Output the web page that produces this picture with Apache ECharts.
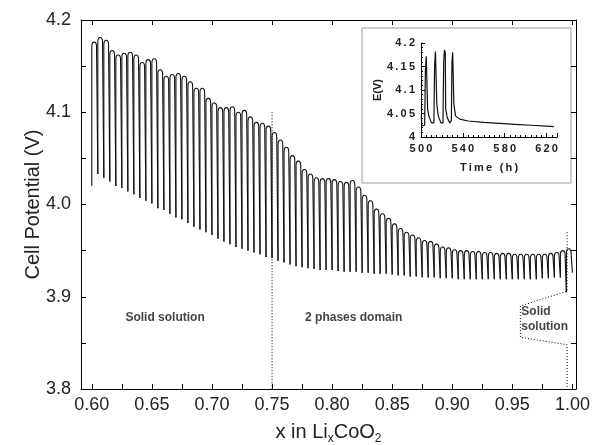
<!DOCTYPE html>
<html><head><meta charset="utf-8">
<script src="https://cdn.jsdelivr.net/npm/echarts@6/dist/echarts.min.js"></script>
<style>html,body{margin:0;padding:0;background:#fff}#c{width:595px;height:445px}</style>
</head><body><div id="c"></div>
<script>
// ---- data ----
const pulseX = [0.600,0.605,0.610,0.615,0.620,0.625,0.630,0.635,0.640,0.645,
  0.650,0.655,0.660,0.665,0.670,0.675,0.680,0.685,0.690,0.695,
  0.700,0.705,0.710,0.715,0.720,0.725,0.730,0.735,0.740,0.745,
  0.750,0.755,0.760,0.765,0.770,0.775,0.780,0.785,0.790,0.795,
  0.800,0.805,0.810,0.815,0.820,0.825,0.830,0.835,0.840,0.845,
  0.850,0.855,0.860,0.865,0.870,0.875,0.880,0.885,0.890,0.895,
  0.900,0.905,0.910,0.915,0.920,0.925,0.930,0.935,0.940,0.945,
  0.950,0.955,0.960,0.965,0.970,0.975,0.980,0.985,0.990,0.995,
  1.000];
const lowV = [4.020,4.033,4.029,4.025,4.020,4.018,4.014,4.011,4.007,4.004,
  4.001,3.996,3.994,3.990,3.986,3.984,3.980,3.976,3.973,3.970,
  3.967,3.963,3.960,3.957,3.954,3.952,3.950,3.948,3.946,3.943,
  3.942,3.939,3.937,3.935,3.933,3.932,3.931,3.930,3.929,3.929,
  3.929,3.928,3.927,3.927,3.927,3.926,3.926,3.925,3.925,3.925,
  3.924,3.923,3.923,3.922,3.922,3.921,3.921,3.921,3.920,3.920,
  3.920,3.919,3.919,3.919,3.919,3.919,3.919,3.919,3.919,3.919,
  3.919,3.919,3.919,3.919,3.919,3.920,3.920,3.921,3.921,3.905,
  3.926];
const highV = [4.176,4.181,4.178,4.167,4.162,4.164,4.165,4.162,4.154,4.157,
  4.158,4.146,4.139,4.141,4.142,4.139,4.133,4.126,4.126,4.115,
  4.110,4.105,4.105,4.106,4.100,4.102,4.095,4.089,4.088,4.085,
  4.078,4.070,4.062,4.053,4.047,4.038,4.033,4.029,4.028,4.028,
  4.027,4.025,4.024,4.026,4.019,4.010,4.004,3.995,3.990,3.985,
  3.979,3.974,3.970,3.967,3.964,3.961,3.960,3.957,3.954,3.953,
  3.951,3.950,3.950,3.949,3.949,3.948,3.948,3.947,3.947,3.947,
  3.946,3.946,3.946,3.946,3.946,3.946,3.947,3.948,3.950,3.952];

const xTickLabels = [0.60,0.65,0.70,0.75,0.80,0.85,0.90,0.95,1.00];
const xTickPositions = [0.600,0.625,0.650,0.675,0.700,0.725,0.750,0.775,0.800,0.825,0.850,0.875,0.900,0.925,0.950,0.975,1.000];
const yTickPositions = [3.80,3.85,3.90,3.95,4.00,4.05,4.10,4.15,4.20];

const boundaryX = [0.750, 0.750];
const boundaryV = [4.100, 3.800];
const rightBoundX = [0.9956, 0.9956, 0.9567, 0.9567, 0.9956, 0.9956];
const rightBoundV = [3.970, 3.906, 3.890, 3.856, 3.848, 3.800];

const regionLabels = ['Solid solution', '2 phases domain', 'Solid\nsolution'];
const regionX = [0.661, 0.818, 0.9575];
const regionV = [3.877, 3.877, 3.876];

const insetT = [500.3,500.8,503.5,504.2,505,505.8,506.3,507.5,510,
  512.3,513,513.8,514.6,515.1,516.5,519,
  521,521.7,522.4,523.2,523.6,525,527.5,
  529,529.6,530.3,531,531.4,533,537,545,560,575,590,605,620,627];
const insetV = [4.045,4.024,4.025,4.14,4.172,4.17,4.06,4.045,4.03,
  4.03,4.15,4.182,4.18,4.07,4.045,4.03,
  4.03,4.16,4.185,4.18,4.06,4.042,4.03,
  4.035,4.16,4.18,4.176,4.07,4.045,4.038,4.034,4.031,4.029,4.027,4.025,4.023,4.022];

// ---- build ----
// one item per pulse: [x start, low at start, peak, x end, low at end]
const pulses = highV.map((h, i) => [pulseX[i], lowV[i], h, pulseX[i + 1], lowV[i + 1]]);
const zip = (a, b) => a.map((v, i) => [v, b[i]]);
const spaced = s => String(s).split('').join('\u2009');
const FF = 'Liberation Sans, Arial, Helvetica, sans-serif';

function renderPulse(params, api) {
  const a = api.coord([api.value(0), api.value(1)]);
  const t = api.coord([api.value(0), api.value(2)]);
  const b = api.coord([api.value(3), api.value(4)]);
  const xa = a[0], xb = b[0] - 1.3, yl = a[1], yh = t[1], yn = b[1];
  const r = 4.5;
  const d = 'M' + xa + ',' + yl + 'L' + xa + ',' + (yh + r) +
    'C' + xa + ',' + (yh - r / 3) + ' ' + xb + ',' + (yh - r / 3) + ' ' + xb + ',' + (yh + r) +
    'L' + b[0] + ',' + yn;
  return {type: 'path', shape: {pathData: d},
    style: {stroke: '#111', fill: 'none', lineWidth: 1.1}};
}

const chart = echarts.init(document.getElementById('c'), null, {renderer: 'canvas'});
chart.setOption({
  animation: false,
  backgroundColor: '#fff',
  textStyle: {fontFamily: FF},
  grid: [
    {left: 81, right: 19, top: 20, bottom: 56, outerBoundsMode: 'none', containLabel: false},
    {left: 421, top: 43, width: 136, height: 94, outerBoundsMode: 'none', containLabel: false}
  ],
  graphic: [{
    type: 'rect', shape: {x: 362, y: 28, width: 209, height: 155},
    style: {fill: 'none', stroke: '#9a9a9a', lineWidth: 1}, z: 0
  }],
  xAxis: [
    {type: 'value', gridIndex: 0, min: 0.591, max: 1.003, position: 'bottom',
     axisLine: {onZero: false, lineStyle: {color: '#000', width: 1}},
     axisTick: {inside: true, length: 5, customValues: xTickPositions, lineStyle: {color: '#000'}},
     axisLabel: {customValues: xTickLabels, formatter: v => v.toFixed(2), fontSize: 18, color: '#222', margin: 7, fontFamily: FF},
     splitLine: {show: false},
     name: 'x in Li{s|x}CoO{s|2}', nameLocation: 'middle', nameGap: 31, nameMoveOverlap: false,
     nameTextStyle: {fontSize: 20, color: '#222', fontFamily: FF,
       rich: {s: {fontSize: 12, color: '#222', padding: [13, 0, 0, 0], fontFamily: FF}}}},
    {type: 'value', gridIndex: 0, min: 0.591, max: 1.003, position: 'top',
     axisLine: {onZero: false, lineStyle: {color: '#000', width: 1}},
     axisTick: {inside: true, length: 5, customValues: xTickLabels, lineStyle: {color: '#000'}},
     axisLabel: {show: false}, splitLine: {show: false}},
    {type: 'value', gridIndex: 1, min: 500, max: 630, interval: 40,
     axisLine: {onZero: false, lineStyle: {color: '#000', width: 1}},
     axisTick: {inside: true, length: 4, lineStyle: {color: '#000'}},
     minorTick: {show: true, splitNumber: 8, length: 2, lineStyle: {color: '#000'}},
     axisLabel: {formatter: v => spaced(v), fontSize: 11, fontWeight: 'bold', color: '#222', margin: 6, fontFamily: FF},
     splitLine: {show: false},
     name: spaced('Time (h)'), nameLocation: 'middle', nameGap: 25,
     nameTextStyle: {fontSize: 11, fontWeight: 'bold', color: '#222', fontFamily: FF}}
  ],
  yAxis: [
    {type: 'value', gridIndex: 0, min: 3.8, max: 4.2, interval: 0.1,
     axisLine: {onZero: false, lineStyle: {color: '#000', width: 1}},
     axisTick: {inside: true, length: 5, customValues: yTickPositions, lineStyle: {color: '#000'}},
     axisLabel: {formatter: v => v.toFixed(1), fontSize: 18, color: '#222', margin: 10, fontFamily: FF},
     splitLine: {show: false},
     name: 'Cell Potential (V)', nameLocation: 'middle', nameGap: 38, nameMoveOverlap: false,
     nameTextStyle: {fontSize: 20, color: '#222', fontFamily: FF}},
    {type: 'value', gridIndex: 0, min: 3.8, max: 4.2, position: 'right',
     axisLine: {onZero: false, lineStyle: {color: '#000', width: 1}},
     axisTick: {inside: true, length: 5, customValues: yTickPositions, lineStyle: {color: '#000'}},
     axisLabel: {show: false}, splitLine: {show: false}},
    {type: 'value', gridIndex: 1, min: 4, max: 4.2, interval: 0.05,
     axisLine: {onZero: false, lineStyle: {color: '#000', width: 1}},
     axisTick: {inside: true, length: 4, lineStyle: {color: '#000'}},
     minorTick: {show: true, splitNumber: 5, length: 2, lineStyle: {color: '#000'}},
     axisLabel: {formatter: v => spaced(v), fontSize: 11, fontWeight: 'bold', color: '#222', margin: 6, fontFamily: FF},
     splitLine: {show: false},
     name: 'E(V)', nameLocation: 'middle', nameGap: 38,
     nameTextStyle: {fontSize: 11, fontWeight: 'bold', color: '#222', fontFamily: FF}}
  ],
  series: [
    {type: 'custom', xAxisIndex: 0, yAxisIndex: 0, data: pulses, renderItem: renderPulse,
     encode: {x: [0, 3], y: [1, 2]}, z: 3},
    {type: 'line', xAxisIndex: 0, yAxisIndex: 0, data: zip(boundaryX, boundaryV), symbol: 'none',
     lineStyle: {color: '#000', width: 1, type: [1, 2]}},
    {type: 'line', xAxisIndex: 0, yAxisIndex: 0, data: zip(rightBoundX, rightBoundV), symbol: 'none',
     lineStyle: {color: '#000', width: 1, type: [1, 2]}},
    {type: 'scatter', xAxisIndex: 0, yAxisIndex: 0, symbolSize: 0,
     data: regionLabels.map((t, i) => ({value: [regionX[i], regionV[i]], name: t,
       label: {show: true, position: [0, 0], formatter: t, fontSize: 12, fontWeight: 'bold', color: '#111',
         fontFamily: FF, lineHeight: 15, align: i === 2 ? 'left' : 'center', verticalAlign: 'middle'}}))},
    {type: 'line', xAxisIndex: 2, yAxisIndex: 2, data: zip(insetT, insetV), symbol: 'none',
     lineStyle: {color: '#111', width: 1.2}}
  ]
});
</script></body></html>
